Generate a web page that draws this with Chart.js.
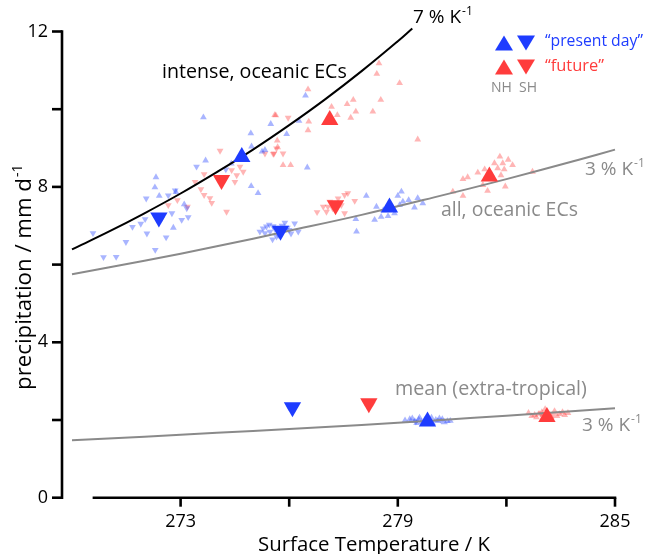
<!DOCTYPE html>
<html>
<head>
<meta charset="utf-8">
<script src="https://cdn.jsdelivr.net/npm/chart.js@4"></script>
<style>
  html, body { margin: 0; padding: 0; background: #fff; }
  #wrap { width: 646px; height: 554px; }
</style>
</head>
<body>
<div id="wrap"><canvas id="chart" width="646" height="554"></canvas></div>
<script>
// reference curves
const curveT = [270, 271, 272, 273, 274, 275, 276, 277, 278, 279, 279.4];
const intenseCurveP = [6.39, 6.84, 7.32, 7.83, 8.38, 8.96, 9.59, 10.26, 10.98, 11.75, 12.08];
const scalingT = [270, 272, 274, 276, 278, 280, 282, 284, 285];
const allCurveP = [5.75, 6.10, 6.47, 6.87, 7.28, 7.73, 8.20, 8.70, 8.96];
const meanCurveP = [1.48, 1.57, 1.67, 1.77, 1.87, 1.99, 2.11, 2.24, 2.30];

// big markers: intense, all, mean
const presentNH_T = [274.69, 278.77, 279.82];
const presentNH_P = [8.77, 7.47, 1.96];
const presentSH_T = [272.40, 275.76, 276.09];
const presentSH_P = [7.21, 6.87, 2.33];
const futureNH_T = [277.12, 281.53, 283.12];
const futureNH_P = [9.72, 8.27, 2.08];
const futureSH_T = [274.13, 277.28, 278.20];
const futureSH_P = [8.18, 7.53, 2.43];

// individual EC members (small markers)
const presentNHsmallT = [273.63, 275.49, 274.94, 274.96, 273.69, 272.32, 272.29, 272.41, 272.87, 275.25,
  274.95, 275.14, 272.80, 276.45, 276.27, 275.93, 275.33, 276.50, 273.10, 274.40,
  278.41, 278.36, 278.54, 278.73, 278.13, 277.84, 277.86, 279.00, 279.10, 279.14, 279.05, 279.46,
  279.55, 279.69, 278.91, 279.30, 278.60,
  279.33, 279.47, 279.60, 279.74, 279.93, 280.10, 280.23, 280.37, 279.52, 279.96, 280.29, 279.66,
  279.20, 279.40, 279.85, 280.05, 280.45, 279.58, 279.78, 280.15];
const presentNHsmallP = [9.79, 9.62, 9.38, 9.04, 8.68, 8.25, 7.99, 7.77, 7.87, 8.91,
  8.02, 7.84, 6.95, 10.35, 9.70, 9.36, 8.95, 8.50, 7.55, 8.60,
  7.49, 7.15, 7.23, 7.25, 7.77, 7.17, 6.85, 7.77, 7.88, 7.62, 7.53, 7.47,
  7.71, 7.58, 7.32, 7.66, 7.40,
  2.02, 1.97, 2.06, 2.00, 2.06, 1.97, 2.02, 1.97, 1.92, 1.92, 1.94, 1.95,
  1.99, 2.04, 2.03, 2.00, 1.98, 2.01, 1.94, 2.04];
const presentSHsmallT = [270.58, 270.87, 271.22, 271.49, 272.30, 271.67, 272.07, 272.02, 272.05, 272.66,
  272.85, 272.48, 272.76, 273.03, 273.21, 273.17, 273.44, 274.25, 271.90, 272.60,
  275.37, 275.47, 275.33, 275.56, 275.88, 276.15, 276.25, 276.00, 275.54, 275.70, 275.19, 275.60, 275.95,
  275.45, 275.80, 276.05, 275.28, 275.65,
  276.00, 276.12, 279.50, 279.90, 280.20];
const presentSHsmallP = [6.81, 6.19, 6.20, 6.58, 6.38, 6.97, 6.80, 7.17, 7.70, 7.78,
  7.91, 7.19, 7.32, 7.15, 7.22, 7.45, 8.52, 8.45, 7.05, 6.70,
  6.98, 6.85, 6.81, 6.99, 7.08, 7.06, 6.85, 6.89, 6.65, 6.76, 6.85, 6.92, 6.95,
  7.03, 7.00, 6.80, 6.93, 6.72,
  2.31, 2.27, 1.96, 1.95, 1.99];
const futureNHsmallT = [278.48, 278.42, 279.05, 276.52, 277.17, 277.60, 277.77, 277.84, 277.70, 278.31,
  278.53, 277.33, 275.63, 276.54, 276.52, 275.67, 275.68, 275.83, 276.04, 279.55, 275.60,
  281.82, 281.67, 281.90, 282.17, 281.76, 281.94, 281.21, 280.93, 280.80, 280.52, 280.80, 281.48,
  281.97, 282.72, 281.35, 281.60, 281.85, 281.40, 282.05,
  282.61, 282.78, 282.98, 283.17, 283.33, 283.47, 283.61, 282.83, 283.24, 283.07,
  282.70, 282.90, 283.40, 283.55, 283.00, 283.70];
const futureNHsmallP = [11.18, 10.91, 10.67, 10.51, 10.06, 10.13, 10.24, 9.94, 9.78, 9.94,
  10.24, 9.85, 9.84, 9.68, 9.46, 9.19, 9.02, 8.56, 8.56, 9.22, 9.85,
  8.78, 8.61, 8.61, 8.56, 8.48, 8.45, 8.37, 8.25, 8.20, 7.88, 7.77, 7.90,
  8.01, 8.39, 8.05, 8.30, 8.30, 8.45, 8.70,
  2.18, 2.13, 2.20, 2.15, 2.23, 2.15, 2.13, 2.07, 2.07, 2.28,
  2.10, 2.16, 2.10, 2.20, 2.12, 2.18];
const futureSHsmallT = [274.09, 273.65, 273.40, 273.56, 273.65, 273.81, 273.86, 272.66, 272.91, 273.19,
  274.27, 274.41, 274.64, 274.73, 274.50, 275.33, 275.58, 275.65, 275.97, 275.56, 275.83, 274.55,
  277.53, 277.62, 277.12, 277.07, 277.03, 276.77, 277.53, 277.81, 277.44, 276.94, 277.35, 277.20,
  278.10, 278.30, 283.30, 282.95];
const futureSHsmallP = [8.93, 8.33, 8.13, 7.94, 7.79, 7.71, 7.59, 7.53, 7.66, 7.49,
  7.36, 8.43, 8.52, 8.39, 8.13, 8.86, 8.86, 8.99, 9.78, 8.85, 8.86, 8.30,
  7.79, 7.84, 7.62, 7.49, 7.36, 7.35, 7.32, 7.64, 7.53, 7.49, 7.70, 7.45,
  2.45, 2.42, 2.14, 2.17];

const xTicks = [273, 276, 279, 282, 285];
const xTickLabels = ["273", "", "279", "", "285"];
const yTicks = [0, 2, 4, 6, 8, 10, 12];
const yTickLabels = ["0", "", "4", "", "8", "", "12"];

const BLUE = "rgb(30, 60, 255)";
const RED = "rgb(255, 60, 60)";
const BLUE_LIGHT = "rgba(30, 60, 255, 0.38)";
const RED_LIGHT = "rgba(255, 60, 60, 0.38)";
const GREY = "#8a8a8a";
const FONT = "'Open Sans'";

function pts(xs, ys) {
  return xs.map((x, i) => ({ x: x, y: ys[i] }));
}

function markers(xs, ys, color, down, radius, order) {
  return {
    data: pts(xs, ys),
    pointStyle: "triangle",
    rotation: down ? 180 : 0,
    pointRadius: radius,
    pointHoverRadius: radius,
    backgroundColor: color,
    borderColor: color,
    borderWidth: 0,
    showLine: false,
    clip: false,
    order: order,
  };
}

function curve(xs, ys, color) {
  return {
    data: pts(xs, ys),
    showLine: true,
    borderColor: color,
    borderWidth: 2,
    pointRadius: 0,
    tension: 0.4,
    clip: false,
    order: 1,
  };
}

// font size that makes text span the given width
function fitSize(ctx, text, width) {
  ctx.font = "20px " + FONT;
  return 20 * width / ctx.measureText(text).width;
}

// text with a "-1" superscript
function supText(ctx, base, sup, x, y, size, color) {
  ctx.fillStyle = color;
  ctx.font = size + "px " + FONT;
  ctx.textAlign = "left";
  ctx.textBaseline = "middle";
  ctx.fillText(base, x, y);
  const w = ctx.measureText(base).width;
  ctx.font = Math.round(size * 0.62) + "px " + FONT;
  ctx.fillText(sup, x + w + 1, y - size * 0.33);
}

function label(ctx, text, x, y, size, color, align) {
  ctx.fillStyle = color;
  ctx.font = size + "px " + FONT;
  ctx.textAlign = align || "left";
  ctx.textBaseline = "middle";
  ctx.fillText(text, x, y);
}

function fitLabel(ctx, text, x, y, width, color, align) {
  label(ctx, text, x, y, fitSize(ctx, text, width), color, align);
}

const decorations = {
  id: "decorations",
  afterDraw(chart) {
    const ctx = chart.ctx;
    const xs = chart.scales.x;
    const ys = chart.scales.y;
    const axX = chart.chartArea.left - 10;
    ctx.save();
    ctx.strokeStyle = "#000";
    ctx.lineWidth = 2.6;
    ctx.lineCap = "butt";

    // y axis
    ctx.beginPath();
    ctx.moveTo(axX, ys.getPixelForValue(0) + 1.3);
    ctx.lineTo(axX, ys.getPixelForValue(12) - 1.3);
    ctx.stroke();
    yTicks.forEach((v, i) => {
      const py = ys.getPixelForValue(v);
      ctx.beginPath();
      ctx.moveTo(axX - 10, py);
      ctx.lineTo(axX, py);
      ctx.stroke();
      if (yTickLabels[i]) label(ctx, yTickLabels[i], axX - 14, py, 18, "#000", "right");
    });

    // x axis
    const by = ys.getPixelForValue(0);
    ctx.beginPath();
    ctx.moveTo(xs.getPixelForValue(270.57), by);
    ctx.lineTo(xs.getPixelForValue(285) + 1.3, by);
    ctx.stroke();
    xTicks.forEach((v, i) => {
      const px = xs.getPixelForValue(v);
      ctx.beginPath();
      ctx.moveTo(px, by);
      ctx.lineTo(px, by + 9);
      ctx.stroke();
      if (xTickLabels[i]) label(ctx, xTickLabels[i], px, by + 24, 18, "#000", "center");
    });
    fitLabel(ctx, "Surface Temperature / K", 374, 545, 232, "#000", "center");

    // y title
    ctx.save();
    ctx.translate(25, 278);
    ctx.rotate(-Math.PI / 2);
    const ysz = fitSize(ctx, "precipitation / mm d", 212);
    ctx.font = ysz + "px " + FONT;
    const tw = ctx.measureText("precipitation / mm d").width;
    supText(ctx, "precipitation / mm d", "-1", -tw / 2 - 6, 0, ysz, "#000");
    ctx.restore();

    // curve annotations
    supText(ctx, "7 % K", "-1", 413, 18, 19, "#000");
    fitLabel(ctx, "intense, oceanic ECs", 162, 72, 185, "#000");
    supText(ctx, "3 % K", "-1", 585, 170, 19, GREY);
    fitLabel(ctx, "all, oceanic ECs", 441, 210, 137, GREY);
    fitLabel(ctx, "mean (extra-tropical)", 395, 389, 192, GREY);
    supText(ctx, "3 % K", "-1", 582, 426, 19, GREY);

    // legend
    const tri = (cx, cy, down, color) => {
      ctx.fillStyle = color;
      ctx.beginPath();
      if (down) {
        ctx.moveTo(cx - 9, cy - 7.5);
        ctx.lineTo(cx + 9, cy - 7.5);
        ctx.lineTo(cx, cy + 7.5);
      } else {
        ctx.moveTo(cx - 9, cy + 7.5);
        ctx.lineTo(cx + 9, cy + 7.5);
        ctx.lineTo(cx, cy - 7.5);
      }
      ctx.closePath();
      ctx.fill();
    };
    tri(504, 43, false, BLUE);
    tri(526, 43, true, BLUE);
    tri(504, 67, false, RED);
    tri(526, 67, true, RED);
    fitLabel(ctx, "\u201Cpresent day\u201D", 545, 42, 98, BLUE);
    fitLabel(ctx, "\u201Cfuture\u201D", 545, 66, 59, RED);
    label(ctx, "NH", 491, 88, 14, GREY);
    label(ctx, "SH", 519, 88, 14, GREY);
    ctx.restore();
  },
};

new Chart(document.getElementById("chart"), {
  type: "scatter",
  data: {
    datasets: [
      markers(presentNH_T, presentNH_P, BLUE, false, 10, 0),
      markers(presentSH_T, presentSH_P, BLUE, true, 10, 0),
      markers(futureNH_T, futureNH_P, RED, false, 10, 0),
      markers(futureSH_T, futureSH_P, RED, true, 10, 0),
      curve(curveT, intenseCurveP, "#000"),
      curve(scalingT, allCurveP, GREY),
      curve(scalingT, meanCurveP, GREY),
      markers(presentNHsmallT, presentNHsmallP, BLUE_LIGHT, false, 3.9, 2),
      markers(presentSHsmallT, presentSHsmallP, BLUE_LIGHT, true, 3.9, 2),
      markers(futureNHsmallT, futureNHsmallP, RED_LIGHT, false, 3.9, 2),
      markers(futureSHsmallT, futureSHsmallP, RED_LIGHT, true, 3.9, 2),
    ],
  },
  options: {
    responsive: false,
    animation: false,
    devicePixelRatio: 1,
    layout: { padding: { left: 72, right: 31, top: 31.5, bottom: 56.3 } },
    scales: {
      x: { type: "linear", min: 270, max: 285, display: false },
      y: { type: "linear", min: 0, max: 12, display: false },
    },
    plugins: {
      legend: { display: false },
      tooltip: { enabled: false },
    },
  },
  plugins: [decorations],
});
</script>
</body>
</html>
